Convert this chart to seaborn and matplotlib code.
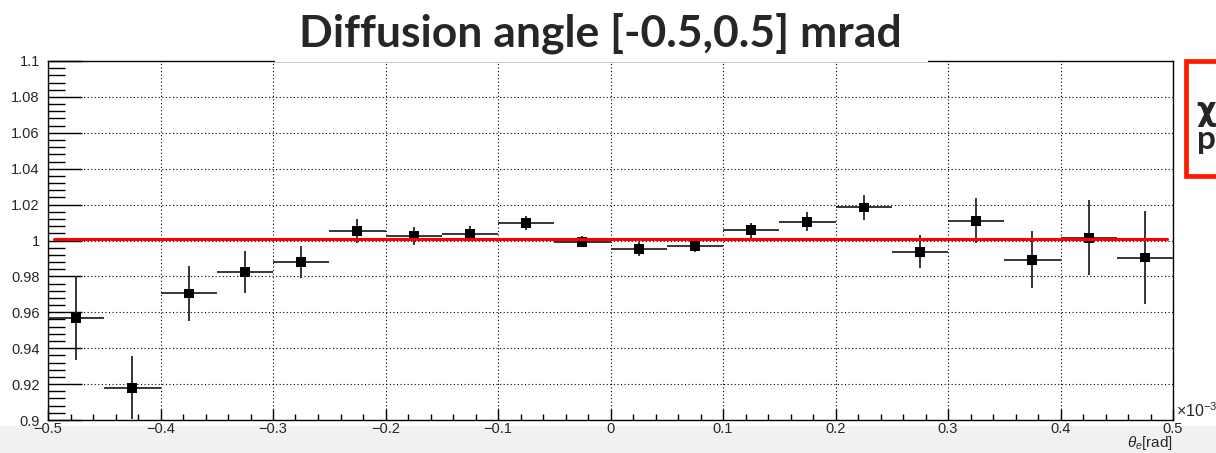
import numpy as np
import pandas as pd
import matplotlib
matplotlib.use("Agg")
import matplotlib.pyplot as plt
from matplotlib.patches import Rectangle
from matplotlib.ticker import MultipleLocator, FuncFormatter
import seaborn as sns

# Ratio per theta_e bin (bin centres in units of 1e-3 rad)
theta_centres = [-0.475, -0.425, -0.375, -0.325, -0.275, -0.225, -0.175, -0.125, -0.075, -0.025,
                 0.025, 0.075, 0.125, 0.175, 0.225, 0.275, 0.325, 0.375, 0.425, 0.475]
ratio = [0.957, 0.918, 0.9705, 0.9825, 0.988, 1.0052, 1.0025, 1.0038, 1.0098, 0.9993,
         0.9951, 0.9968, 1.0057, 1.0104, 1.0184, 0.9938, 1.0110, 0.9893, 1.0016, 0.9905]
ratio_err = [0.0235, 0.0175, 0.0155, 0.0118, 0.0088, 0.0068, 0.0050, 0.0040, 0.0040, 0.0030,
             0.0038, 0.0030, 0.0042, 0.0052, 0.0068, 0.0090, 0.0125, 0.0160, 0.0210, 0.0260]
bin_half_width = 0.025

# Constant fit result and its range
fit_value = 1.0007
fit_range = [-0.495, 0.495]

title_text = "Diffusion angle [-0.5,0.5] mrad"
x_label = r"$\theta_{e}$[rad]"
x_exponent = r"$\times10^{-3}$"
fit_box_lines = ["\u03c7", "p"]

df = pd.DataFrame({"theta": theta_centres, "ratio": ratio, "err": ratio_err})
fit_df = pd.DataFrame({"theta": fit_range, "ratio": [fit_value, fit_value]})

sns.set_theme(style="white")
plt.rcParams["font.family"] = ["Liberation Sans", "DejaVu Sans"]
plt.rcParams["mathtext.fontset"] = "custom"
plt.rcParams["mathtext.rm"] = "Liberation Sans"
plt.rcParams["mathtext.it"] = "Liberation Sans:italic"

W, H = 1216, 453
fig = plt.figure(figsize=(W / 100, H / 100), dpi=100, facecolor="white")

# light grey strip along the bottom edge
fig.patches.append(Rectangle((0, 0), 1, (H - 426) / H, transform=fig.transFigure,
                             facecolor="#f1f1f1", edgecolor="none", zorder=-5))

ax_l, ax_r, ax_t, ax_b = 48, 1173, 61, 420
ax = fig.add_axes([ax_l / W, (H - ax_b) / H, (ax_r - ax_l) / W, (ax_b - ax_t) / H])
ax.set_facecolor("white")

# error bars: bin width horizontally, statistical error vertically
ax.errorbar(df["theta"], df["ratio"], xerr=bin_half_width, yerr=df["err"], fmt="none",
            ecolor="#262626", elinewidth=1.3, capsize=0, zorder=3)
sns.scatterplot(data=df, x="theta", y="ratio", marker="s", s=50, color="black",
                edgecolor="none", linewidth=0, ax=ax, zorder=4)
sns.lineplot(data=fit_df, x="theta", y="ratio", color="#ff0000", linewidth=2.2, ax=ax, zorder=5)

ax.set_xlim(-0.5, 0.5)
ax.set_ylim(0.9, 1.1)
ax.set_xlabel("")
ax.set_ylabel("")

ax.xaxis.set_major_locator(MultipleLocator(0.1))
ax.xaxis.set_minor_locator(MultipleLocator(0.02))
ax.yaxis.set_major_locator(MultipleLocator(0.02))
ax.yaxis.set_minor_locator(MultipleLocator(0.004))

def fmt(v, pos):
    s = "%g" % round(v, 6)
    if s == "-0":
        s = "0"
    return s.replace("-", "\u2212")

ax.xaxis.set_major_formatter(FuncFormatter(fmt))
ax.yaxis.set_major_formatter(FuncFormatter(fmt))

ax.tick_params(axis="x", which="major", direction="in", length=7.9, width=1.0, color="black",
               labelsize=10.5, pad=1.5, bottom=True, top=False)
ax.tick_params(axis="x", which="minor", direction="in", length=4.6, width=1.0, color="black",
               bottom=True, top=False)
ax.tick_params(axis="y", which="major", direction="in", length=24.5, width=1.0, color="black",
               labelsize=10.5, pad=6, left=True, right=False)
ax.tick_params(axis="y", which="minor", direction="in", length=12.2, width=1.0, color="black",
               left=True, right=False)

ax.grid(True, which="major", color="black", linestyle=(0, (1, 2.2)), linewidth=0.8)
for sp in ax.spines.values():
    sp.set_color("black")
    sp.set_linewidth(1.0)

fig.text(1176 / W, 1 - 411 / H, x_exponent, ha="left", va="center", fontsize=11.5)
fig.text(ax_r / W, 1 - 443.5 / H, x_label, ha="right", va="center", fontsize=11)

# white title panel over the top of the frame
fig.patches.append(Rectangle((275 / W, 1 - 62 / H), (928 - 275) / W, 62 / H,
                             transform=fig.transFigure, facecolor="white",
                             edgecolor="none", zorder=10))
fig.text(600 / W, 1 - 46 / H, title_text, ha="center", va="baseline", fontsize=32,
         fontweight="bold", family=["Lato", "DejaVu Sans"], zorder=11)

# framed fit summary on the right
fig.patches.append(Rectangle((1186 / W, 1 - 176 / H), 60 / W, (176 - 61) / H,
                             transform=fig.transFigure, facecolor="white",
                             edgecolor="#ff1a00", linewidth=3.4, zorder=10))
fig.text(1196 / W, 1 - 120 / H, fit_box_lines[0], ha="left", va="baseline", fontsize=22,
         fontweight="bold", family=["DejaVu Sans"], zorder=11)
fig.text(1197 / W, 1 - 149 / H, fit_box_lines[1], ha="left", va="baseline", fontsize=24,
         fontweight="bold", family=["Lato", "DejaVu Sans"], zorder=11)

fig.savefig("out.png", dpi=100, facecolor="white")
